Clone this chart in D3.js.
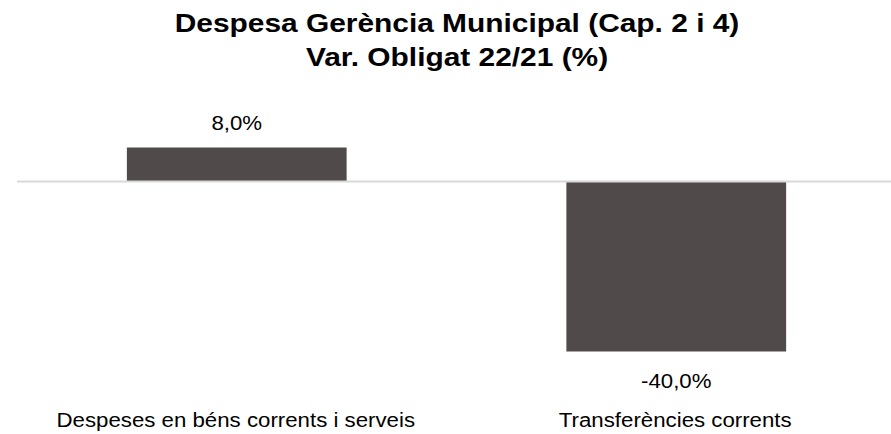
<!DOCTYPE html>
<html>
<head>
<meta charset="utf-8">
<script src="https://cdn.jsdelivr.net/npm/d3@7"></script>
<style>
  html, body { margin: 0; padding: 0; background: #fff; }
  svg { display: block; font-family: "Liberation Sans", Arial, sans-serif; }
</style>
</head>
<body>
<svg id="chart" width="891" height="434"></svg>
<script>
// Variation of obligations 2022 vs 2021, chapters 2 and 4
const categories = ["Despeses en béns corrents i serveis", "Transferències corrents"];
const values = [8.0, -40.0];
const titleLines = ["Despesa Gerència Municipal (Cap. 2 i 4)", "Var. Obligat 22/21 (%)"];

const W = 891, H = 434;
const svg = d3.select("#chart");

const x = d3.scaleBand()
  .domain(categories)
  .range([17, 896])
  .paddingInner(0.5)
  .paddingOuter(0.25);

const y = d3.scaleLinear()
  .domain([-40, 8])
  .range([351.5, 147.5]);

// Catalan style: decimal comma, plain hyphen for negatives
const fmt = v => d3.format(".1f")(v).replace(".", ",").replace("\u2212", "-") + "%";

// Text is slightly widened horizontally
const place = (sx) => (sel, px, py) =>
  sel.attr("transform", (d, i) => `translate(${px(d, i)},${py(d, i)}) scale(${sx},1)`);

// Title
svg.append("g")
  .selectAll("text")
  .data(titleLines)
  .join("text")
  .call(place(1.15), () => 457, (d, i) => 32 + i * 34)
  .attr("text-anchor", "middle")
  .attr("font-size", 26)
  .attr("font-weight", "bold")
  .attr("fill", "#000")
  .text(d => d);

// Bars
svg.append("g")
  .selectAll("rect")
  .data(values)
  .join("rect")
  .attr("x", (d, i) => x(categories[i]))
  .attr("width", x.bandwidth())
  .attr("y", d => y(Math.max(0, d)))
  .attr("height", d => Math.abs(y(d) - y(0)))
  .attr("fill", "#504b4a");

// Zero line
svg.append("line")
  .attr("x1", 17).attr("x2", W)
  .attr("y1", y(0)).attr("y2", y(0))
  .attr("stroke", "#d9d9d9")
  .attr("stroke-width", 2);

// Value labels
svg.append("g")
  .selectAll("text")
  .data(values)
  .join("text")
  .call(place(1.06),
    (d, i) => x(categories[i]) + x.bandwidth() / 2,
    d => d >= 0 ? y(d) - 17.5 : y(d) + 36.5)
  .attr("text-anchor", "middle")
  .attr("font-size", 21)
  .attr("fill", "#000")
  .text(d => fmt(d));

// Category labels
svg.append("g")
  .selectAll("text")
  .data(categories)
  .join("text")
  .call(place(1.06), d => x(d) + x.bandwidth() / 2 - 1, () => 427)
  .attr("text-anchor", "middle")
  .attr("font-size", 21)
  .attr("fill", "#000")
  .text(d => d);
</script>
</body>
</html>
